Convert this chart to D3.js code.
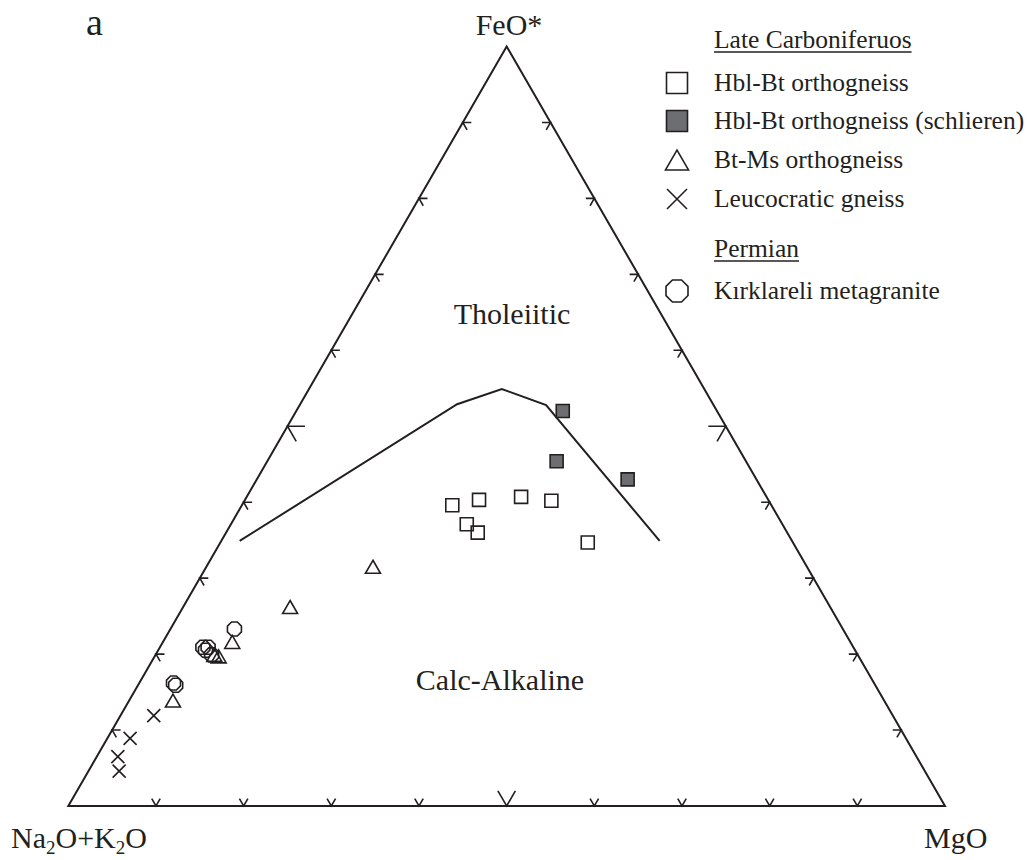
<!DOCTYPE html>
<html>
<head>
<meta charset="utf-8">
<script src="https://cdn.jsdelivr.net/npm/d3@7"></script>
<style>
  body { margin: 0; background: #fff; }
  svg text { font-family: "Liberation Serif", "Times New Roman", serif; fill: #231f20; }
</style>
</head>
<body>
<svg id="chart" width="1030" height="860"></svg>
<script>
// ternary values as [Na2O+K2O, FeO*, MgO] in %
const hblBt = [[36.4,39.6,24.0],[33.0,40.3,26.7],[28.0,40.7,31.3],[24.8,40.2,35.0],
               [36.0,37.1,26.9],[35.3,36.0,28.7],[23.4,34.7,41.9]];
const hblBtSchlieren = [[17.6,52.0,30.4],[21.6,45.4,33.0],[14.7,43.0,42.3]];
const btMs = [[49.5,31.5,19.0],[61.6,26.2,12.2],[70.5,21.6,7.9],[73.0,19.7,7.3],
              [73.4,19.9,6.7],[81.2,13.9,5.0]];
const leucocratic = [[84.3,11.9,3.8],[88.5,8.9,2.6],[91.1,6.5,2.4],[91.9,4.6,3.5]];
const kirklareli = [[69.4,23.3,7.3],[74.2,20.9,4.9],[74.1,20.5,5.4],[73.6,20.9,5.5],
                    [73.7,19.9,6.4],[79.9,16.2,3.9],[79.8,15.9,4.3]];
// Irvine & Baragar boundary
const boundary = [[63.0,34.9,2.1],[29.2,52.9,17.9],[23.1,54.9,22.0],[19.1,52.8,28.1],[15.1,34.9,50.0]];

const tickValues = [10,20,30,40,50,60,70,80,90];
const majorTick = 50;

const legendGroups = ["Late Carboniferuos", "Permian"];
const legendItems = ["Hbl-Bt orthogneiss", "Hbl-Bt orthogneiss (schlieren)", "Bt-Ms orthogneiss",
                     "Leucocratic gneiss", "Kırklareli metagranite"];

const ink = "#231f20";
const grey = "#6d6e71";
const svg = d3.select("#chart");

const h = Math.sqrt(3) / 2;
const x = d3.scaleLinear().domain([0, 1]).range([68.3, 945]);
const y = d3.scaleLinear().domain([0, h]).range([806, 46.5]);

function proj(d) {
    const s = d[0] + d[1] + d[2];
    const f = d[1] / s, m = d[2] / s;
    return [x(m + f / 2), y(f * h)];
}

// symbol paths, s = width in px
function squarePath(s) {
    return "M" + (-s/2) + "," + (-s/2) + "h" + s + "v" + s + "h" + (-s) + "Z";
}
function trianglePath(s) {
    const th = s * h;
    return "M0," + (-th/2) + "L" + (s/2) + "," + (th/2) + "L" + (-s/2) + "," + (th/2) + "Z";
}
function crossPath(s) {
    const a = s / 2;
    return "M" + (-a) + "," + (-a) + "L" + a + "," + a + "M" + a + "," + (-a) + "L" + (-a) + "," + a;
}
function octagonPath(s) {
    const r = (s / 2) / Math.cos(Math.PI / 8);
    const pts = d3.range(8).map(k => {
        const ang = Math.PI / 8 + k * Math.PI / 4;
        return [r * Math.cos(ang), r * Math.sin(ang)];
    });
    return d3.line()(pts) + "Z";
}

// frame
const corners = [[100,0,0],[0,100,0],[0,0,100]].map(proj);
svg.append("path")
    .attr("d", d3.line()(corners) + "Z")
    .attr("fill", "none")
    .attr("stroke", ink)
    .attr("stroke-width", 2)
    .attr("stroke-linejoin", "miter");

// ticks: arms along the two grid directions entering each edge
const edges = [
    { pos: t => [100 - t, t, 0], dirs: [[1, 0], [0.5, h]] },      // left edge
    { pos: t => [0, t, 100 - t], dirs: [[-1, 0], [-0.5, h]] },    // right edge
    { pos: t => [100 - t, 0, t], dirs: [[-0.5, -h], [0.5, -h]] }  // bottom edge
];
edges.forEach(e => {
    tickValues.forEach(t => {
        const p = proj(e.pos(t));
        const L = t === majorTick ? 17.5 : 8.5;
        const a = [p[0] + e.dirs[0][0] * L, p[1] + e.dirs[0][1] * L];
        const b = [p[0] + e.dirs[1][0] * L, p[1] + e.dirs[1][1] * L];
        svg.append("path")
            .attr("d", d3.line()([a, p, b]))
            .attr("fill", "none")
            .attr("stroke", ink)
            .attr("stroke-width", 1.6);
    });
});

// boundary line
svg.append("path")
    .attr("d", d3.line()(boundary.map(proj)))
    .attr("fill", "none")
    .attr("stroke", ink)
    .attr("stroke-width", 2);

// data
function drawSet(data, pathFn, size, fill) {
    svg.selectAll(null)
        .data(data)
        .enter()
        .append("path")
        .attr("d", pathFn(size))
        .attr("transform", d => "translate(" + proj(d)[0] + "," + proj(d)[1] + ")")
        .attr("fill", fill)
        .attr("stroke", ink)
        .attr("stroke-width", 1.6);
}
drawSet(hblBt, squarePath, 13, "none");
drawSet(hblBtSchlieren, squarePath, 13, grey);
drawSet(btMs, trianglePath, 15, "none");
drawSet(leucocratic, crossPath, 13, "none");
drawSet(kirklareli, octagonPath, 14, "none");

// vertex labels
svg.append("text").text("a")
    .attr("x", 86).attr("y", 35)
    .style("font-size", "38px");

svg.append("text").text("FeO*")
    .attr("x", 509).attr("y", 35)
    .attr("text-anchor", "middle")
    .style("font-size", "30px");

const na = svg.append("text")
    .attr("x", 11).attr("y", 848)
    .style("font-size", "30px");
na.append("tspan").text("Na");
na.append("tspan").text("2").attr("dy", 6).style("font-size", "19px");
na.append("tspan").text("O+K").attr("dy", -6);
na.append("tspan").text("2").attr("dy", 6).style("font-size", "19px");
na.append("tspan").text("O").attr("dy", -6);

svg.append("text").text("MgO")
    .attr("x", 924).attr("y", 848)
    .style("font-size", "30px");

// field labels
svg.append("text").text("Tholeiitic")
    .attr("x", 512).attr("y", 324)
    .attr("text-anchor", "middle")
    .style("font-size", "30px");

svg.append("text").text("Calc-Alkaline")
    .attr("x", 500).attr("y", 690)
    .attr("text-anchor", "middle")
    .style("font-size", "30px");

// legend
const lgX = 677, txtX = 714;
function header(label, yy) {
    const t = svg.append("text").text(label)
        .attr("x", txtX).attr("y", yy)
        .style("font-size", "25.5px");
    const w = t.node().getComputedTextLength();
    svg.append("line")
        .attr("x1", txtX).attr("x2", txtX + w)
        .attr("y1", yy + 4).attr("y2", yy + 4)
        .attr("stroke", ink).attr("stroke-width", 1.3);
}
header(legendGroups[0], 48);
header(legendGroups[1], 257);

const legendRows = [
    { label: legendItems[0], y: 83, path: squarePath(21), fill: "none" },
    { label: legendItems[1], y: 121, path: squarePath(21), fill: grey },
    { label: legendItems[2], y: 160, path: trianglePath(23), fill: "none" },
    { label: legendItems[3], y: 199, path: crossPath(20), fill: "none" },
    { label: legendItems[4], y: 291, path: octagonPath(22), fill: "none" }
];
legendRows.forEach(r => {
    svg.append("path")
        .attr("d", r.path)
        .attr("transform", "translate(" + lgX + "," + r.y + ")")
        .attr("fill", r.fill)
        .attr("stroke", ink)
        .attr("stroke-width", 1.6);
    svg.append("text").text(r.label)
        .attr("x", txtX).attr("y", r.y + 8)
        .style("font-size", "25.5px");
});
</script>
</body>
</html>
